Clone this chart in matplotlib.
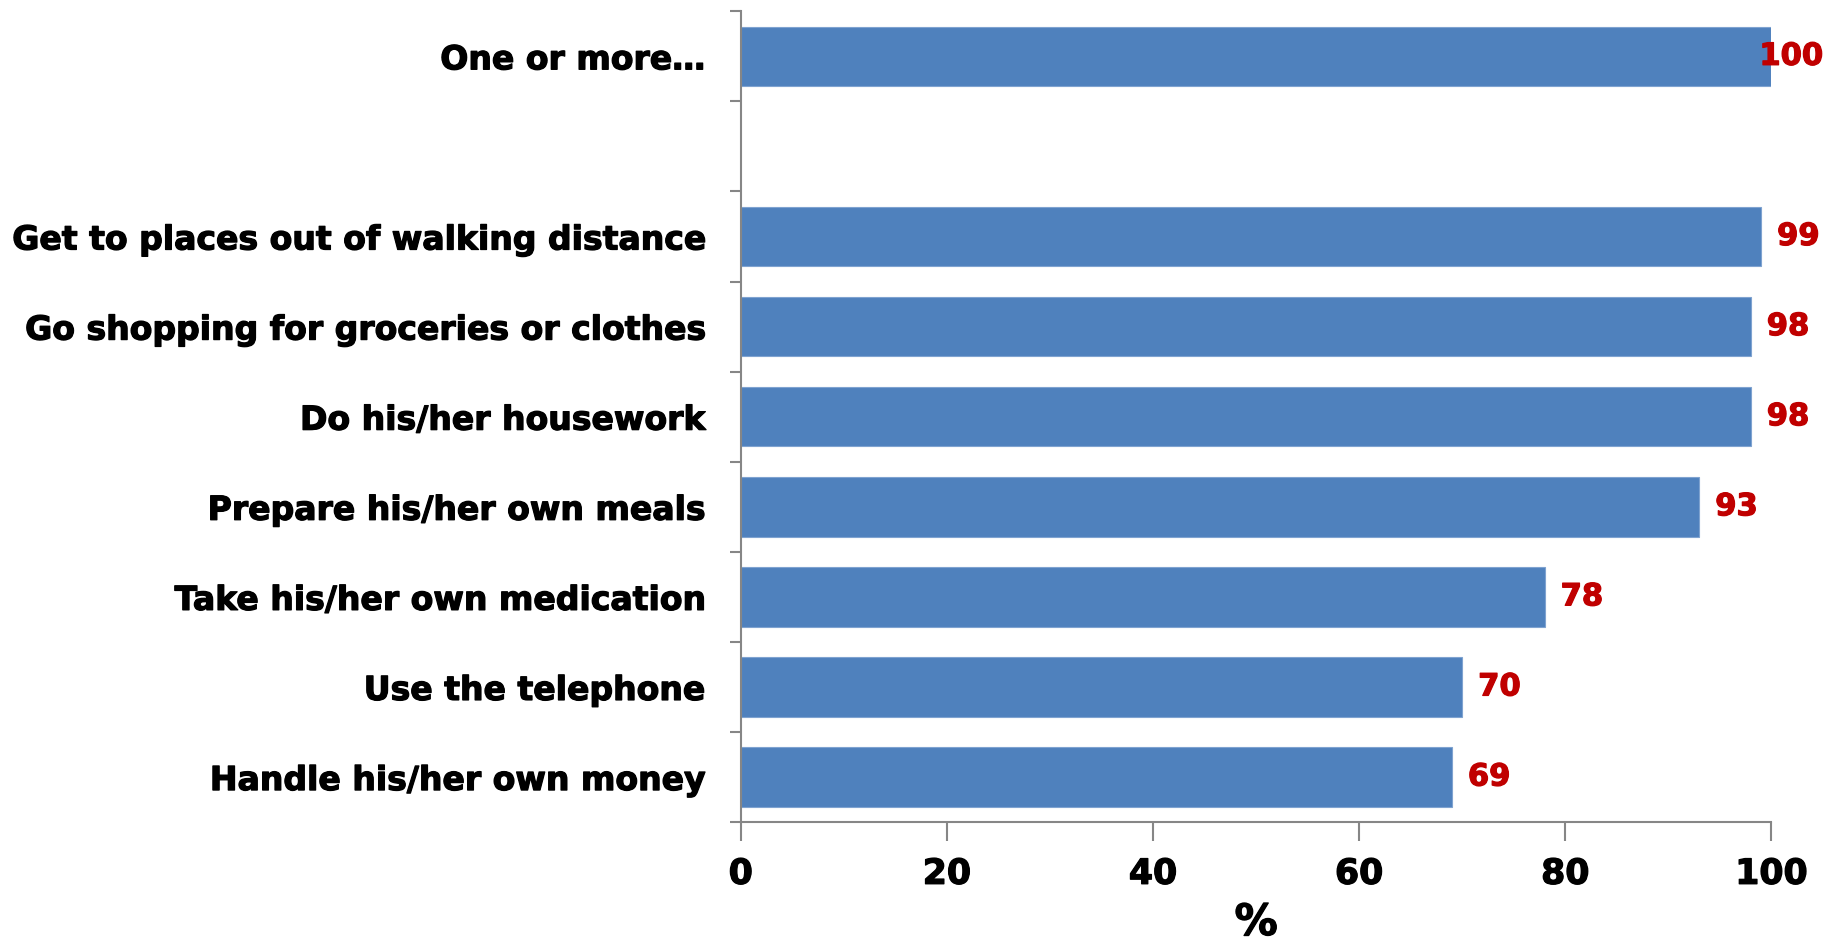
import numpy as np
import matplotlib
matplotlib.use("Agg")
import matplotlib.pyplot as plt
import matplotlib.patheffects as pe
from matplotlib.ticker import FixedLocator

plt.rcParams["font.family"] = ["DejaVu Sans"]
plt.rcParams["font.weight"] = "bold"

summary_label = "One or more…"
summary_value = 100
activities = ["Get to places out of walking distance",
              "Go shopping for groceries or clothes",
              "Do his/her housework",
              "Prepare his/her own meals",
              "Take his/her own medication",
              "Use the telephone",
              "Handle his/her own money"]
values = [99, 98, 98, 93, 78, 70, 69]
xticks = [0, 20, 40, 60, 80, 100]

bar_color = "#4F81BD"
label_color = "#C00000"
axis_color = "#868686"

# summary bar on top, one empty slot, then the activities
labels = [summary_label, ""] + activities
vals = [summary_value, np.nan] + values
pos = np.arange(len(labels))

fig = plt.figure(figsize=(18.29, 9.45), dpi=100)
ax = fig.add_axes([0.405, 0.129, 0.5635, 0.858])

ax.barh(pos, vals, height=0.66, color=bar_color, edgecolor="#7FA3D0", linewidth=0.8)

heavy = lambda c: [pe.withStroke(linewidth=0.9, foreground=c)]

for p, v in zip(pos, vals):
    if np.isnan(v):
        continue
    # the full bar has no room on the right, label sits over the bar end
    off = -12 if v >= xticks[-1] else 16
    ax.annotate(str(int(v)), xy=(v, p), xytext=(off * 0.72, 0), textcoords="offset points",
                ha="left", va="center", color=label_color, fontsize=22, fontweight="bold",
                path_effects=heavy(label_color))

ax.set_xlim(0, 100)
ax.set_ylim(len(labels) - 0.5, -0.5)
ax.set_xticks(xticks)
ax.set_xticklabels([str(t) for t in xticks], fontsize=25, fontweight="bold")
ax.set_yticks(pos)
ax.set_yticklabels(labels, fontsize=23.8, fontweight="bold")
ax.yaxis.set_minor_locator(FixedLocator(np.arange(-0.5, len(labels), 1.0)))
for t in ax.get_xticklabels() + ax.get_yticklabels():
    t.set_path_effects(heavy("black"))

ax.tick_params(axis="y", which="major", length=0, pad=26)
ax.tick_params(axis="y", which="minor", length=8, width=1.5, color=axis_color, direction="out")
ax.tick_params(axis="x", which="major", length=14, width=1.5, color=axis_color, direction="out", pad=11)

for s in ["top", "right"]:
    ax.spines[s].set_visible(False)
for s in ["left", "bottom"]:
    ax.spines[s].set_color(axis_color)
    ax.spines[s].set_linewidth(1.5)

ax.set_xlabel("%", fontsize=31, fontweight="bold", labelpad=8, path_effects=heavy("black"))

fig.savefig("out.png", dpi=100)
